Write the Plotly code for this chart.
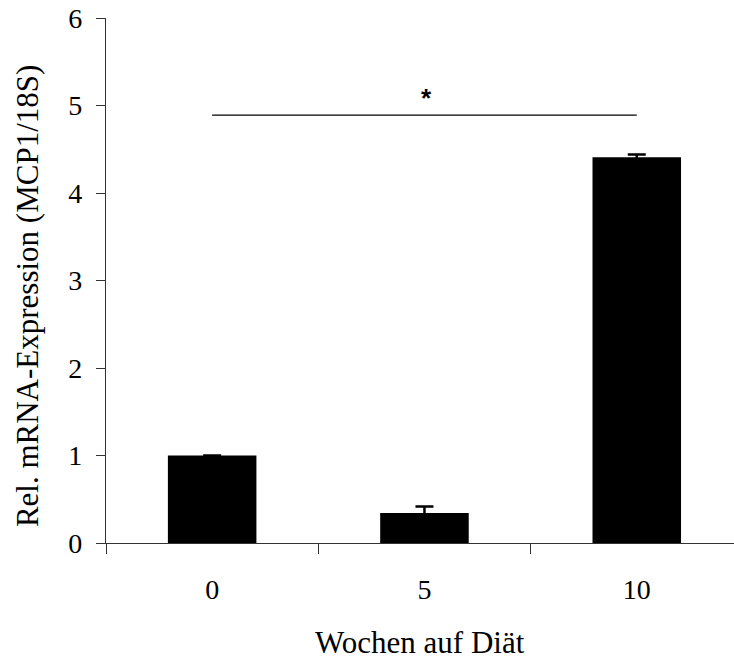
import plotly.graph_objects as go

# Data
categories = ["0", "5", "10"]
values = [1.0, 0.343, 4.41]
errors = [0.0, 0.075, 0.03]
y_ticks = [0, 1, 2, 3, 4, 5, 6]
sig_pair = ["0", "10"]
sig_level = 4.89
sig_label = "<b>*</b>"
x_title = "Wochen auf Diät"
y_title = "Rel. mRNA-Expression (MCP1/18S)"

FONT = "Liberation Serif"

fig = go.Figure()
fig.add_trace(go.Bar(
    x=categories, y=values,
    marker=dict(color="black", line=dict(width=0)),
    error_y=dict(type="data", array=errors, visible=True,
                 color="black", thickness=2.5, width=9),
    showlegend=False,
))
fig.add_trace(go.Scatter(
    x=sig_pair, y=[sig_level, sig_level], mode="lines",
    line=dict(color="black", width=1.2), showlegend=False,
    hoverinfo="skip",
))
i0 = categories.index(sig_pair[0])
i1 = categories.index(sig_pair[1])
fig.add_annotation(
    x=(i0 + i1) / 2, y=sig_level, text=sig_label, showarrow=False,
    yanchor="bottom", yshift=0, xshift=2,
    font=dict(family="Liberation Sans", size=26, color="black"),
)

fig.add_annotation(
    xref="paper", yref="paper", x=0.4998, y=-0.19, yanchor="middle",
    text=x_title, showarrow=False, borderpad=0,
    font=dict(family=FONT, size=31, color="black"),
)
fig.add_annotation(
    xref="paper", yref="paper", x=-0.126, y=0.47, xanchor="center",
    yanchor="middle", textangle=-90,
    text=y_title, showarrow=False,
    font=dict(family=FONT, size=31, color="black"),
)

fig.update_layout(
    width=734, height=659,
    margin=dict(l=106, r=0, t=18, b=116),
    plot_bgcolor="white", paper_bgcolor="white",
    bargap=0.583,
    font=dict(family=FONT, size=28, color="black"),
    xaxis=dict(
        type="category", categoryorder="array", categoryarray=categories,
        range=[-0.5, 2.458],
        showline=True, linecolor="#333", linewidth=1.2,
        ticks="outside", tickson="boundaries", ticklen=10, tickcolor="#333",
        tickwidth=1.2, showgrid=False, zeroline=False,
        ticklabelstandoff=21,
    ),
    yaxis=dict(
        range=[0, 6], tickvals=y_ticks,
        showline=True, linecolor="#333", linewidth=1.2,
        ticks="outside", ticklen=9, tickcolor="#333", tickwidth=1.2,
        showgrid=False, zeroline=False, ticklabelstandoff=8,
    ),
)

fig.write_html(
    "out.html",
    config={"displayModeBar": False},
    post_script="document.body.style.margin='0';document.body.style.overflow='hidden';",
)
